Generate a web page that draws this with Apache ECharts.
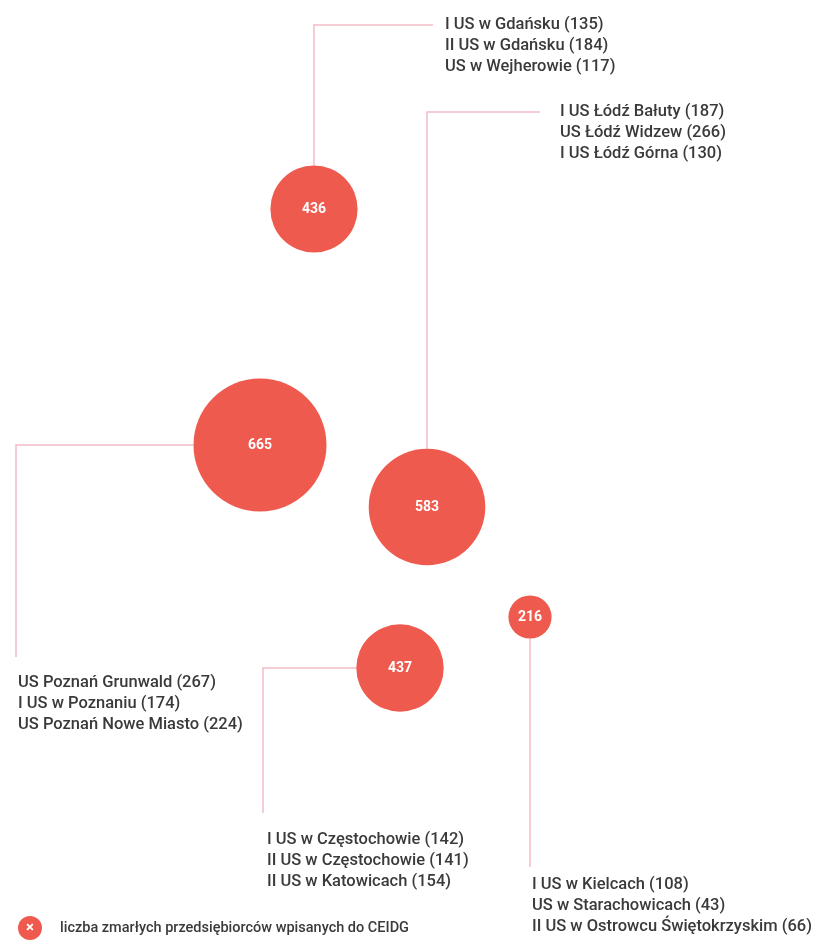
<!DOCTYPE html>
<html>
<head>
<meta charset="utf-8">
<script src="https://cdn.jsdelivr.net/npm/echarts@6/dist/echarts.min.js"></script>
<style>
html, body { margin: 0; padding: 0; background: #fff; }
#chart { width: 819px; height: 944px; }
</style>
</head>
<body>
<div id="chart"></div>
<script>
// dane
const regions = ['Gdańsk', 'Łódź', 'Poznań', 'Częstochowa / Katowice', 'Kielce'];
const totals = [436, 583, 665, 437, 216];
const officeNames = [
  ['I US w Gdańsku', 'II US w Gdańsku', 'US w Wejherowie'],
  ['I US Łódź Bałuty', 'US Łódź Widzew', 'I US Łódź Górna'],
  ['US Poznań Grunwald', 'I US w Poznaniu', 'US Poznań Nowe Miasto'],
  ['I US w Częstochowie', 'II US w Częstochowie', 'II US w Katowicach'],
  ['I US w Kielcach', 'US w Starachowicach', 'II US w Ostrowcu Świętokrzyskim']
];
const officeCounts = [
  [135, 184, 117],
  [187, 266, 130],
  [267, 174, 224],
  [142, 141, 154],
  [108, 43, 66]
];
const seriesName = 'liczba zmarłych przedsiębiorców wpisanych do CEIDG';

// układ (osie ukryte, 1 jednostka = 1 px)
const centers = [[314, 209], [427, 507], [260, 445], [400, 668], [530, 617]];
const leaderSide = ['top', 'top', 'left', 'left', 'bottom'];
const leaderBend = [[314, 25], [427, 112], [16, 445], [263, 668], null];
const leaderEnd = [[433, 25], [540, 112], [16, 657], [263, 813], [530, 867]];
const labelAt = [[445, 25], [560, 112], [18, 683], [267, 840], [532, 885]];
const sizeScale = 0.2;
const lineHeight = 21;

const bubbleColor = '#ef5a4e';
const leaderColor = '#f4bcc6';
const textColor = '#3a3a3a';

const chart = echarts.init(document.getElementById('chart'));

const option = {
  animation: false,
  grid: { left: 0, right: 0, top: 0, bottom: 0 },
  xAxis: { type: 'value', min: 0, max: 819, show: false },
  yAxis: { type: 'value', min: 0, max: 944, inverse: true, show: false },
  legend: {
    data: [seriesName],
    left: 18,
    top: 916,
    padding: 0,
    icon: 'circle',
    itemWidth: 24,
    itemHeight: 24,
    textStyle: {
      fontSize: 14.5,
      color: textColor,
      fontFamily: 'Roboto',
      fontWeight: 500,
      padding: [0, 0, 0, 13]
    }
  },
  graphic: [{
    type: 'text',
    x: 30,
    y: 928,
    z: 100,
    silent: true,
    style: {
      text: '×',
      fill: '#fff',
      fontSize: 15,
      fontWeight: 'bold',
      fontFamily: 'Roboto',
      align: 'center',
      verticalAlign: 'middle'
    }
  }],
  series: [
    {
      type: 'custom',
      name: 'leaders',
      silent: true,
      z: 1,
      data: regions.map((r, i) => [i]),
      renderItem: function (params, api) {
        const i = params.dataIndex;
        const c = api.coord(centers[i]);
        const r = totals[i] * sizeScale / 2;
        let start;
        if (leaderSide[i] === 'top') start = [c[0], c[1] - r];
        else if (leaderSide[i] === 'left') start = [c[0] - r, c[1]];
        else start = [c[0], c[1] + r];
        const pts = [start];
        if (leaderBend[i]) pts.push(api.coord(leaderBend[i]));
        pts.push(api.coord(leaderEnd[i]));
        const la = api.coord(labelAt[i]);
        const texts = officeNames[i].map((name, k) => ({
          type: 'text',
          x: la[0],
          y: la[1] + k * lineHeight,
          style: {
            text: name + ' (' + officeCounts[i][k] + ')',
            fill: textColor,
            fontSize: 16.5,
            fontWeight: 500,
            fontFamily: 'Roboto',
            align: 'left',
            verticalAlign: 'middle'
          }
        }));
        return {
          type: 'group',
          children: [{
            type: 'polyline',
            shape: { points: pts },
            style: { stroke: leaderColor, lineWidth: 1.5, fill: null }
          }].concat(texts)
        };
      }
    },
    {
      type: 'scatter',
      name: seriesName,
      z: 5,
      data: totals.map((v, i) => [centers[i][0], centers[i][1], v]),
      symbolSize: d => d[2] * sizeScale,
      itemStyle: { color: bubbleColor, opacity: 1 },
      label: {
        show: true,
        position: 'inside',
        formatter: p => p.value[2],
        color: '#fff',
        fontSize: 14,
        fontWeight: 'bold',
        fontFamily: 'Roboto'
      },
      emphasis: { disabled: true }
    }
  ]
};

chart.setOption(option);
window.addEventListener('resize', () => chart.resize());
</script>
</body>
</html>
